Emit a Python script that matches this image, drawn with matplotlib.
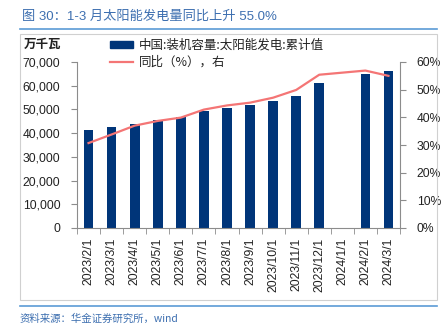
import matplotlib
matplotlib.use("Agg")
import matplotlib.pyplot as plt
import numpy as np
from matplotlib.lines import Line2D
from matplotlib.patches import Rectangle

plt.rcParams['font.family'] = ['Liberation Sans', 'Noto Sans CJK SC', 'DejaVu Sans']

dates = ["2023/2/1", "2023/3/1", "2023/4/1", "2023/5/1", "2023/6/1", "2023/7/1",
         "2023/8/1", "2023/9/1", "2023/10/1", "2023/11/1", "2023/12/1",
         "2024/1/1", "2024/2/1", "2024/3/1"]
capacity = [41400, 42600, 44000, 45500, 46900, 49200, 50400, 52000, 53600,
            55700, 61000, np.nan, 64800, 66000]
yoy = [30.7, 33.8, 37.0, 38.7, 39.9, 42.8, 44.3, 45.3, 47.1, 49.9, 55.4,
       np.nan, 56.9, 55.0]

left_ticks = [0, 10000, 20000, 30000, 40000, 50000, 60000, 70000]
right_ticks = [0, 10, 20, 30, 40, 50, 60]

W, H = 444, 335
fig = plt.figure(figsize=(W / 100, H / 100), dpi=100)

navy = "#003579"
salmon = "#f47575"
blue_txt = "#3d6fb0"
axis_gray = "#8c8c8c"

# title and decorations
fig.text(22 / W, 1 - 17 / H, "图 30：1-3 月太阳能发电量同比上升 55.0%", fontsize=9.5,
         color=blue_txt, va="center", ha="left",
         family=['Liberation Sans', 'Noto Sans CJK SC'])
fig.add_artist(Line2D([20 / W, 437 / W], [1 - 29 / H, 1 - 29 / H], color="#5b9bd5", lw=1.2))
fig.add_artist(Line2D([20 / W, 437 / W], [1 - 306 / H, 1 - 306 / H], color="#5b9bd5", lw=1.2))
fig.add_artist(Rectangle((20 / W, 1 - 300 / H), 417 / W, 266 / H, fill=False,
                         edgecolor="#d0d0d0", lw=0.8))
fig.text(20 / W, 1 - 319 / H, "资料来源：华金证券研究所，wind", fontsize=7.5,
         color=blue_txt, style="italic", va="center", ha="left",
         family=['Noto Sans CJK SC', 'Liberation Sans'])

ax = fig.add_axes([77 / W, 1 - 228 / H, 323 / W, 166 / H])
x = np.arange(len(dates))
cap = np.array(capacity, dtype=float)
ax.bar(x, cap, width=0.42, color=navy, zorder=2)
ax.set_xlim(-0.5, len(dates) - 0.5)
ax.set_ylim(0, 70000)
ax.set_yticks(left_ticks)
ax.set_yticklabels([f"{v:,}" for v in left_ticks], fontsize=8.7, color="#222222")
ax.set_xticks(x)
ax.set_xticklabels(dates, rotation=90, fontsize=8.8, color="#222222")
ax.set_xticks(np.arange(-0.5, len(dates), 1), minor=True)
ax.tick_params(axis="x", which="major", length=0, pad=7)
ax.tick_params(axis="x", which="minor", length=4, color=axis_gray, direction="out")
ax.tick_params(axis="y", length=4, color=axis_gray, direction="out", pad=8)
for s in ["top", "right"]:
    ax.spines[s].set_visible(False)
ax.spines["left"].set_color(axis_gray)
ax.spines["bottom"].set_color(axis_gray)
ax.patch.set_alpha(0)

ax2 = ax.twinx()
yv = np.array(yoy, dtype=float)
mask = ~np.isnan(yv)
ax2.plot(x[mask], yv[mask], color=salmon, lw=1.6, zorder=3)
ax2.set_ylim(0, 60)
ax2.set_yticks(right_ticks)
ax2.set_yticklabels([f"{v}%" for v in right_ticks], fontsize=8.7, color="#222222")
ax2.tick_params(axis="y", length=4, color=axis_gray, direction="out", pad=8)
for s in ["top", "left", "bottom"]:
    ax2.spines[s].set_visible(False)
ax2.spines["right"].set_color(axis_gray)

fig.text(24 / W, 1 - 44 / H, "万千瓦", fontsize=9, fontweight="bold", color="#222222",
         va="center", ha="left", family=['Noto Sans CJK SC'])

# legend
fig.add_artist(Rectangle((110 / W, 1 - 48 / H), 23 / W, 7 / H, color=navy))
fig.text(139 / W, 1 - 45 / H, "中国:装机容量:太阳能发电:累计值", fontsize=9, color="#222222",
         va="center", ha="left", family=['Noto Sans CJK SC'])
fig.add_artist(Line2D([110 / W, 133 / W], [1 - 62 / H, 1 - 62 / H], color=salmon, lw=1.6))
fig.text(139 / W, 1 - 62 / H, "同比（%），右", fontsize=9, color="#222222",
         va="center", ha="left", family=['Noto Sans CJK SC'])

fig.savefig("out.png", dpi=100)
